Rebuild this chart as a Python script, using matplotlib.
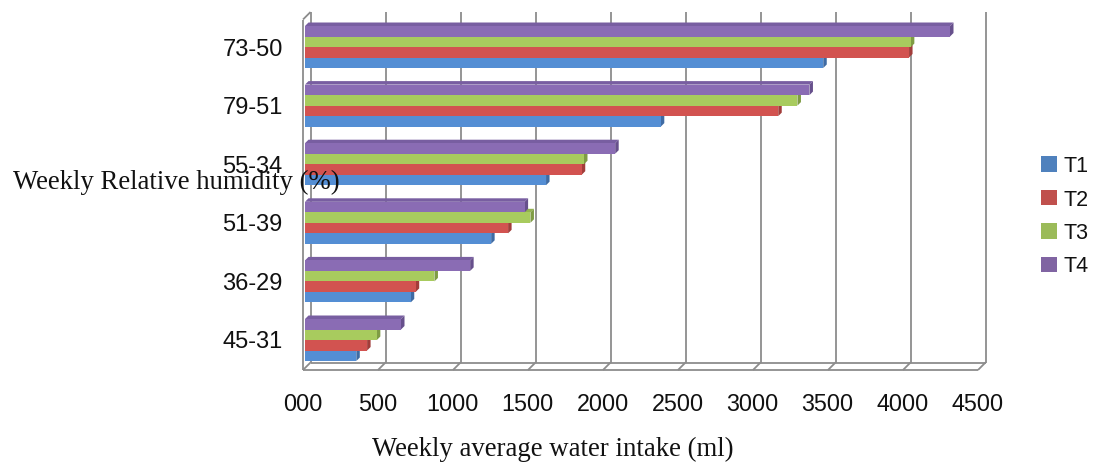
import matplotlib
matplotlib.use("Agg")
import matplotlib.pyplot as plt
from matplotlib.patches import Polygon, Rectangle
from matplotlib.transforms import offset_copy, ScaledTranslation

# ---- data -------------------------------------------------------------
categories = ["45-31", "36-29", "51-39", "55-34", "79-51", "73-50"]
t1 = [342, 705, 1241, 1607, 2372, 3455]
t2 = [414, 738, 1354, 1845, 3155, 4027]
t3 = [479, 863, 1503, 1860, 3283, 4039]
t4 = [640, 1101, 1464, 2068, 3363, 4300]
series_names = ["T1", "T2", "T3", "T4"]
x_ticks = [0, 500, 1000, 1500, 2000, 2500, 3000, 3500, 4000, 4500]
x_tick_labels = ["000", "500", "1000", "1500", "2000", "2500",
                 "3000", "3500", "4000", "4500"]

# ---- styling ----------------------------------------------------------
front_cols = ["#548ED4", "#D25350", "#A8CB5E", "#8A6CB4"]
top_cols = ["#4A7DBB", "#B94744", "#93B350", "#785EA1"]
side_cols = ["#3F6BA3", "#A23D3A", "#7F9C44", "#67508C"]
legend_cols = ["#4F81BD", "#C0504D", "#9BBB59", "#8064A2"]
grid_col = "#8C8C8C"
sans = ["Liberation Sans", "DejaVu Sans"]
serif = ["Liberation Serif", "DejaVu Serif"]

W, H = 1120, 468
fig = plt.figure(figsize=(W / 100, H / 100), dpi=100)

# axes = plane of the bars' front faces (pixel layout)
left_px, right_px = 305, 980
top_px, bottom_px = 17.5, 368
first_px, step_px = 340, 58.6
ax = fig.add_axes([left_px / W, 1 - bottom_px / H,
                   (right_px - left_px) / W, (bottom_px - top_px) / H])
xmax = 4500
ymin = -(bottom_px - first_px) / step_px
ymax = (first_px - top_px) / step_px
ax.set_xlim(0, xmax)
ax.set_ylim(ymin, ymax)
for s in ax.spines.values():
    s.set_visible(False)
ax.patch.set_alpha(0)

# depth of the box: front plane and back wall offsets (pixels)
front_tr = offset_copy(ax.transData, fig=fig, x=-2, y=-2, units="dots")
back_tr = offset_copy(ax.transData, fig=fig, x=5.5, y=5.5, units="dots")
lw = 1.3
line_kw = dict(color=grid_col, lw=lw, clip_on=False, solid_capstyle="butt")

# back wall gridlines
for xv in x_ticks:
    ax.plot([xv, xv], [ymin, ymax], transform=back_tr, zorder=1, **line_kw)
# floor: back edge, front edge and the depth ticks
ax.plot([0, xmax], [ymin, ymin], transform=back_tr, zorder=1, **line_kw)
ax.plot([0, xmax], [ymin, ymin], transform=front_tr, zorder=1, **line_kw)
px_x = (right_px - left_px) / xmax
px_y = step_px
for xv in x_ticks:
    x0 = xv - 2 / px_x
    y0 = ymin - 2 / px_y
    x1 = xv + 5.5 / px_x
    y1 = ymin + 5.5 / px_y
    ax.plot([x0, x1], [y0, y1], zorder=1, **line_kw)
# side wall front edge and its top link to the back wall
ax.plot([0, 0], [ymin, ymax], transform=front_tr, zorder=1, **line_kw)
ax.plot([-2 / px_x, 5.5 / px_x], [ymax - 2 / px_y, ymax + 5.5 / px_y],
        zorder=1, **line_kw)

# ---- 3-D style bars ---------------------------------------------------
series = [t1, t2, t3, t4]
bar_h = 10.5 / step_px
dx = 3.5 / px_x
dy = 3.5 / px_y
z = 3
for i in range(len(categories)):
    for j, vals in enumerate(series):
        v = vals[i]
        yc = i + (j - 1.5) * bar_h
        yb, yt = yc - bar_h / 2, yc + bar_h / 2
        ax.barh(yc, v, height=bar_h, left=0, color=front_cols[j],
                edgecolor="none", zorder=z + 2)
        ax.add_patch(Polygon([(0, yt), (v, yt), (v + dx, yt + dy),
                              (dx, yt + dy)], closed=True,
                             facecolor=top_cols[j], edgecolor="none",
                             zorder=z))
        ax.add_patch(Polygon([(v, yb), (v, yt), (v + dx, yt + dy),
                              (v + dx, yb + dy)], closed=True,
                             facecolor=side_cols[j], edgecolor="none",
                             zorder=z + 1))
        z += 3

# ---- ticks and labels -------------------------------------------------
ax.set_xticks(x_ticks, x_tick_labels)
ax.set_yticks(range(len(categories)), categories)
ax.tick_params(axis="x", length=0, pad=18, labelsize=16.8)
ax.tick_params(axis="y", length=0, pad=16, labelsize=17)
shift_left = ScaledTranslation(-2.5 / 100, 0, fig.dpi_scale_trans)
for lab in ax.get_xticklabels():
    lab.set_transform(lab.get_transform() + shift_left)
for lab in ax.get_xticklabels() + ax.get_yticklabels():
    lab.set_family(sans)
    lab.set_color("#111111")

fig.text(13 / W, 1 - 189 / H, "Weekly Relative humidity (%)",
         family=serif, fontsize=19.3, ha="left", va="baseline",
         color="#111111", zorder=50)
fig.text(553 / W, 1 - 456 / H, "Weekly average water intake (ml)",
         family=serif, fontsize=19.3, ha="center", va="baseline",
         color="#111111")

# ---- legend -----------------------------------------------------------
sq = 15.5
for k, name in enumerate(series_names):
    cy = 164 + 33.5 * k
    fig.add_artist(Rectangle(((1041) / W, 1 - (cy + sq / 2) / H),
                             sq / W, sq / H, transform=fig.transFigure,
                             facecolor=legend_cols[k], edgecolor="none"))
    fig.text(1064 / W, 1 - cy / H, name, family=sans, fontsize=15.5,
             ha="left", va="center_baseline", color="#111111")

fig.savefig("out.png", dpi=100)
